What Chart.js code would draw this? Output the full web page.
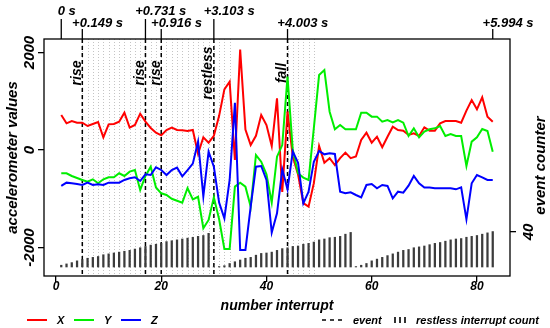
<!DOCTYPE html>
<html>
<head>
<meta charset="utf-8">
<script src="https://cdn.jsdelivr.net/npm/chart.js@4"></script>
<style>
    html, body { margin: 0; padding: 0; background: #fff; }
</style>
</head>
<body>
<canvas id="myChart" width="550" height="328"></canvas>
<script>
// interrupt number (x axis)
const interrupts = [1, 2, 3, 4, 5, 6, 7, 8, 9, 10, 11, 12, 13, 14, 15, 16, 17, 18, 19, 20,
    21, 22, 23, 24, 25, 26, 27, 28, 29, 30, 31, 32, 33, 34, 35, 36, 37, 38, 39, 40,
    41, 42, 43, 44, 45, 46, 47, 48, 49, 50, 51, 52, 53, 54, 55, 56, 57, 58, 59, 60,
    61, 62, 63, 64, 65, 66, 67, 68, 69, 70, 71, 72, 73, 74, 75, 76, 77, 78, 79, 80,
    81, 82, 83];

// accelerometer values per interrupt
const accX = [718, 547, 595, 560, 560, 492, 533, 574, 260, 526, 533, 581, 766, 458, 513, 745, 581, 451, 355, 300,
    410, 458, 410, 403, 390, 410, -80, 260, 150, 290, 700, 1244, 1401, -205, 2060, 420, 103, 290, 718, 513,
    82, 1060, -860, 786, -137, -500, -1090, -1162, -680, 82, -260, -167, -308, -167, -55, -167, -133, 205, 355, 150,
    273, 55, 273, 478, 410, 396, 308, 342, 287, 465, 396, 396, 547, 595, 595, 595, 560, 807, 1025, 834,
    1080, 684, 581];
const accY = [-478, -478, -533, -574, -615, -649, -601, -683, -601, -560, -560, -478, -533, -444, -410, -820, -533, -342, -770, -889,
    -923, -1000, -1040, -1080, -780, -1012, -960, -1606, -1435, -970, -1420, -2030, -2030, -752, -670, -752, -1162, -103, -239, -500,
    -1080, -137, 100, 1504, 0, -478, -567, -615, 450, 1538, 1640, 786, 424, 513, 424, 424, 424, 766, 766, 684,
    684, 581, 615, 568, 615, 560, 287, 444, 260, 376, 424, 444, 492, 287, 328, 287, 287, -328, 171, 260,
    431, 390, -34];
const accZ = [-738, -670, -683, -697, -718, -670, -718, -704, -718, -670, -670, -670, -615, -581, -560, -636, -499, -513, -355, -410,
    -513, -410, -362, -540, -415, -280, 171, -950, -34, -342, -1080, -1401, -615, 970, -2050, -2050, -1162, -342, -328, -615,
    -1695, -1299, -396, -807, -30, -260, -1094, -855, -240, -20, -89, -68, -82, -855, -889, -869, -923, -971, -718, -697,
    -786, -718, -738, -991, -855, -875, -731, -533, -684, -772, -772, -786, -786, -786, -786, -807, -766, -1422, -684, -513,
    -560, -615, -615];

// restless interrupt count (right axis)
const restlessCount = [2, 3.5, 5, 7, 8.5, 10, 11, 12, 14, 15, 16, 17, 18, 19, 20.5, 22, 23.5, 25, 26, 27,
    29, 30, 31, 32, 33, 34, 35, 36, 38.5, 0, 0.5, 1.5, 4, 6, 8, 10, 11, 13.5, 15.5, 16,
    17, 19, 21, 22, 23.5, 24, 26, 27, 28.5, 31, 32, 33.5, 34, 35, 37.5, 39.5, 0.5, 2, 4, 7,
    9, 11, 13, 15, 17, 19, 20, 22, 23, 24, 25.5, 27, 28, 29.5, 31, 32, 32.5, 34, 35, 36,
    37.5, 39, 40.5];

// events
const eventAt = [5, 17, 20, 30, 44];
const eventNames = ['rise', 'rise', 'rise', 'restless', 'fall'];
const eventWindows = [[5, 33], [44, 49]];

// top time axis
const timeAt = [1, 5, 17, 20, 30, 44, 83];
const timeLabels = ['0 s', '+0.149 s', '+0.731 s', '+0.916 s', '+3.103 s', '+4.003 s', '+5.994 s'];

// tick labels
const xTicks = [0, 20, 40, 60, 80];
const yTicks = [-2000, 0, 2000];
const countTicks = [40];

const pts = arr => arr.map((v, i) => ({ x: interrupts[i], y: v }));
const font = size => 'italic bold ' + size + 'px "Liberation Sans", Arial, sans-serif';

function vText(ctx, str, x, y, f) {
    ctx.save();
    ctx.translate(x, y);
    ctx.rotate(-Math.PI / 2);
    ctx.font = f;
    ctx.textAlign = 'center';
    ctx.textBaseline = 'alphabetic';
    ctx.fillText(str, 0, 0);
    ctx.restore();
}

const decor = {
    id: 'decor',
    beforeDatasetsDraw(chart) {
        const { ctx, chartArea: a, scales } = chart;
        ctx.save();
        // dotted lines at every interrupt inside the event windows
        ctx.strokeStyle = '#c4c4c4';
        ctx.lineWidth = 1;
        ctx.setLineDash([1, 2]);
        eventWindows.forEach(([from, to]) => {
            interrupts.filter(i => i >= from && i <= to).forEach(i => {
                const px = Math.round(scales.x.getPixelForValue(i)) + 0.5;
                ctx.beginPath();
                ctx.moveTo(px, a.top);
                ctx.lineTo(px, a.bottom);
                ctx.stroke();
            });
        });
        // dashed event lines
        ctx.strokeStyle = '#000';
        ctx.lineWidth = 1.5;
        ctx.setLineDash([4, 3]);
        eventAt.forEach(e => {
            const px = scales.x.getPixelForValue(e);
            ctx.beginPath();
            ctx.moveTo(px, a.top);
            ctx.lineTo(px, a.bottom);
            ctx.stroke();
        });
        ctx.restore();
    },
    afterDraw(chart) {
        const { ctx, chartArea: a, scales } = chart;
        ctx.save();
        ctx.fillStyle = '#000';
        ctx.strokeStyle = '#000';

        // box
        ctx.lineWidth = 1.3;
        ctx.strokeRect(a.left, a.top, a.right - a.left, a.bottom - a.top);

        // top time axis, labels staggered on two rows
        const timeRow = [0, 1, 0, 1, 0, 1, 1];
        ctx.font = font(13);
        ctx.textAlign = 'left';
        ctx.textBaseline = 'alphabetic';
        timeAt.forEach((t, i) => {
            const px = scales.x.getPixelForValue(t);
            const up = timeRow[i] === 0;
            ctx.beginPath();
            ctx.moveTo(px, a.top);
            ctx.lineTo(px, a.top - (up ? 20 : 10));
            ctx.stroke();
            const w = ctx.measureText(timeLabels[i]).width;
            ctx.fillText(timeLabels[i], px - 0.2 * w, a.top - (up ? 24 : 12));
        });

        // event names
        eventAt.forEach((e, i) => {
            const px = scales.x.getPixelForValue(e);
            vText(ctx, eventNames[i], px - 1.5, a.top + 34, font(14));
        });

        // x tick labels
        ctx.font = font(12);
        ctx.textAlign = 'center';
        xTicks.forEach(v => ctx.fillText(String(v), scales.x.getPixelForValue(v), 290));
        ctx.font = font(14);
        ctx.fillText('number interrupt', (a.left + a.right) / 2, 310);

        // left axis
        yTicks.forEach(v => vText(ctx, String(v), 34, scales.y.getPixelForValue(v), font(15)));
        vText(ctx, 'accelerometer values', 17, (a.top + a.bottom) / 2, font(15));

        // right axis
        countTicks.forEach(v => vText(ctx, String(v), 533, scales.y2.getPixelForValue(v), font(15)));
        vText(ctx, 'event counter', 545, (a.top + a.bottom) / 2 + 8, font(15));

        // legend, left part
        ctx.font = font(11);
        ctx.textAlign = 'left';
        chart.data.datasets.slice(0, 3).forEach((ds, i) => {
            const lx = 27 + i * 47;
            ctx.strokeStyle = ds.borderColor;
            ctx.lineWidth = 2;
            ctx.beginPath();
            ctx.moveTo(lx, 320);
            ctx.lineTo(lx + 20, 320);
            ctx.stroke();
            ctx.fillText(ds.label, lx + 30, 324);
        });

        // legend, right part
        ctx.strokeStyle = '#000';
        ctx.lineWidth = 1.5;
        ctx.setLineDash([4, 4]);
        ctx.beginPath();
        ctx.moveTo(322, 320);
        ctx.lineTo(344, 320);
        ctx.stroke();
        ctx.setLineDash([]);
        ctx.fillText('event', 353, 324);
        ctx.strokeStyle = '#333';
        ctx.lineWidth = 2;
        [395, 400, 405].forEach(bx => {
            ctx.beginPath();
            ctx.moveTo(bx, 317);
            ctx.lineTo(bx, 323);
            ctx.stroke();
        });
        ctx.fillText('restless interrupt count', 416, 324);
        ctx.restore();
    }
};

const tickMarks = { drawOnChartArea: false, drawTicks: true, tickLength: 6, color: '#000', lineWidth: 1.3, offset: false };

const ctx = document.getElementById('myChart');
const myChart = new Chart(ctx, {
    type: 'line',
    data: {
        datasets: [
            { label: 'X', data: pts(accX), borderColor: '#ff0000', borderWidth: 2, pointRadius: 0, tension: 0, order: 3 },
            { label: 'Y', data: pts(accY), borderColor: '#00ee00', borderWidth: 2, pointRadius: 0, tension: 0, order: 2 },
            { label: 'Z', data: pts(accZ), borderColor: '#0000ff', borderWidth: 2, pointRadius: 0, tension: 0, order: 1 },
            {
                type: 'bar', label: 'restless interrupt count', data: pts(restlessCount), yAxisID: 'y2',
                backgroundColor: '#3c3c3c', barThickness: 1.6, order: 4
            }
        ]
    },
    options: {
        responsive: false,
        animation: false,
        layout: { padding: { top: 39, left: 0, right: 0, bottom: 0 } },
        plugins: { legend: { display: false }, tooltip: { enabled: false } },
        scales: {
            x: {
                type: 'linear', position: 'bottom', min: -2.28, max: 86.28, offset: false,
                afterBuildTicks: s => { s.ticks = xTicks.map(v => ({ value: v })); },
                afterFit: s => { s.height = 52; },
                ticks: { display: false },
                grid: tickMarks,
                border: { display: false }
            },
            y: {
                type: 'linear', position: 'left', min: -2585, max: 2277,
                afterBuildTicks: s => { s.ticks = yTicks.map(v => ({ value: v })); },
                afterFit: s => { s.width = 44; },
                ticks: { display: false },
                grid: tickMarks,
                border: { display: false }
            },
            y2: {
                type: 'linear', position: 'right', min: -10.3, max: 260.6,
                afterBuildTicks: s => { s.ticks = countTicks.map(v => ({ value: v })); },
                afterFit: s => { s.width = 40; },
                ticks: { display: false },
                grid: tickMarks,
                border: { display: false }
            }
        }
    },
    plugins: [decor]
});
</script>
</body>
</html>
